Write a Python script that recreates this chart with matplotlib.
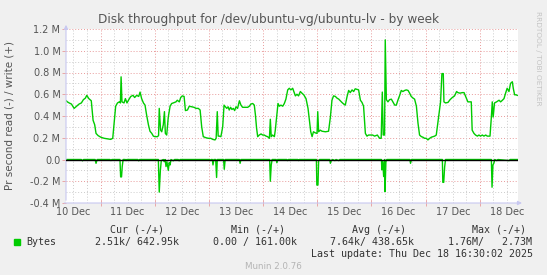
import matplotlib
matplotlib.use("Agg")
import matplotlib.pyplot as plt
import matplotlib.ticker as mticker
from matplotlib.patches import Rectangle

# Data: hours since 10 Dec 00:00, throughput in MB/s (millions of bytes)
write_h = [8.8, 9.3, 10.1, 11.1, 12.3, 13.4, 14.5, 15.5, 16.4, 17.3, 17.9, 18.8, 19.9, 20.7, 21.4, 22.0,
           22.9, 24.1, 25.6, 27.0, 28.5, 29.4, 30.0, 30.7, 31.5, 32.3, 32.8, 33.1, 33.5, 34.4, 35.0, 35.7,
           36.5, 37.4, 38.4, 39.1, 40.0, 40.9, 41.5, 42.2, 43.0, 43.7, 44.4, 45.2, 45.9, 46.7, 47.4, 48.1,
           49.2, 49.7, 50.0, 50.6, 51.1, 51.8, 52.3, 52.7, 53.3, 54.0, 54.8, 55.5, 56.2, 57.4, 58.0, 58.9,
           59.5, 60.2, 61.0, 61.6, 62.5, 63.3, 64.4, 65.4, 66.3, 67.3, 68.1, 68.8, 69.5, 70.7, 71.7, 72.8,
           73.7, 74.7, 75.2, 75.7, 76.1, 76.6, 77.3, 78.1, 78.7, 79.3, 79.9, 80.5, 81.0, 81.6, 82.2, 82.8,
           83.4, 84.0, 84.7, 85.5, 86.2, 86.9, 88.1, 89.2, 89.9, 90.6, 91.4, 92.1, 92.6, 93.1, 93.6, 94.3,
           95.1, 95.8, 96.5, 97.3, 98.0, 98.8, 99.2, 99.6, 100.2, 101.0, 101.4, 102.0, 102.6, 103.2, 103.9,
           104.7, 105.4, 106.1, 106.9, 107.6, 108.3, 109.1, 109.8, 110.3, 111.0, 111.7, 112.5, 113.2, 114.0,
           115.0, 115.9, 116.5, 117.1, 117.7, 118.3, 119.1, 119.9, 120.2, 120.6, 121.3, 122.1, 123.6, 125.0,
           125.8, 126.5, 127.2, 128.0, 128.7, 129.5, 130.2, 130.9, 131.7, 132.4, 133.2, 133.9, 134.6, 135.4,
           136.1, 136.8, 137.6, 138.3, 139.1, 139.8, 140.5, 141.3, 142.0, 142.7, 143.9, 144.5, 145.4, 146.6,
           147.6, 148.3, 148.8, 149.2, 149.8, 150.1, 150.6, 151.3, 152.0, 152.8, 153.5, 154.3, 155.0, 155.7,
           156.5, 157.2, 157.9, 158.7, 159.4, 160.2, 160.9, 161.6, 162.4, 163.1, 163.9, 164.6, 165.3, 166.1,
           166.8, 167.5, 168.3, 169.0, 169.8, 170.5, 171.2, 172.0, 172.7, 173.4, 174.2, 174.6, 175.2, 175.8,
           176.1, 176.8, 177.9, 178.8, 179.8, 180.8, 181.7, 182.3, 183.2, 184.2, 185.0, 185.7, 186.7, 187.6,
           188.2, 188.6, 189.4, 190.1, 190.9, 191.6, 192.3, 193.1, 193.8, 194.6, 195.3, 196.5, 197.1, 197.5,
           197.9, 198.5, 199.4, 200.5, 201.2, 202.0, 202.7, 203.4, 204.1, 204.9, 205.6, 206.4, 206.8, 207.4,
           208.0, 208.6]
write_v = [0.54, 0.53, 0.52, 0.51, 0.47, 0.49, 0.51, 0.52, 0.55, 0.565, 0.59, 0.56, 0.54, 0.36, 0.32, 0.24,
           0.22, 0.205, 0.195, 0.19, 0.185, 0.195, 0.33, 0.49, 0.52, 0.53, 0.52, 0.76, 0.53, 0.52, 0.56, 0.52,
           0.55, 0.58, 0.59, 0.57, 0.59, 0.58, 0.62, 0.56, 0.52, 0.50, 0.41, 0.32, 0.26, 0.24, 0.215, 0.21,
           0.21, 0.22, 0.47, 0.27, 0.255, 0.32, 0.44, 0.24, 0.225, 0.39, 0.49, 0.515, 0.52, 0.53, 0.545, 0.53,
           0.57, 0.585, 0.58, 0.45, 0.455, 0.49, 0.485, 0.48, 0.47, 0.47, 0.455, 0.30, 0.21, 0.20, 0.195, 0.195,
           0.185, 0.18, 0.195, 0.44, 0.215, 0.215, 0.21, 0.30, 0.50, 0.485, 0.47, 0.485, 0.455, 0.48, 0.46, 0.47,
           0.45, 0.485, 0.47, 0.54, 0.50, 0.48, 0.48, 0.48, 0.49, 0.51, 0.515, 0.50, 0.41, 0.29, 0.21, 0.225,
           0.235, 0.225, 0.225, 0.215, 0.21, 0.195, 0.37, 0.21, 0.225, 0.21, 0.27, 0.39, 0.515, 0.49, 0.50,
           0.49, 0.515, 0.555, 0.64, 0.655, 0.64, 0.655, 0.615, 0.585, 0.60, 0.585, 0.625, 0.61, 0.595,
           0.56, 0.47, 0.365, 0.255, 0.21, 0.255, 0.245, 0.24, 0.44, 0.255, 0.27, 0.26, 0.255, 0.26,
           0.39, 0.545, 0.585, 0.58, 0.565, 0.555, 0.54, 0.525, 0.51, 0.50, 0.58, 0.635, 0.615, 0.64,
           0.625, 0.65, 0.645, 0.64, 0.545, 0.525, 0.49, 0.24, 0.215, 0.225, 0.225, 0.225, 0.215, 0.225,
           0.195, 0.195, 0.62, 0.225, 0.225, 1.10, 0.55, 0.53, 0.55, 0.555, 0.53, 0.50, 0.50, 0.545,
           0.59, 0.635, 0.625, 0.635, 0.64, 0.635, 0.61, 0.58, 0.565, 0.555, 0.49, 0.335, 0.225, 0.21,
           0.205, 0.195, 0.195, 0.18, 0.195, 0.205, 0.21, 0.215, 0.225, 0.335, 0.455, 0.53, 0.79, 0.79,
           0.53, 0.52, 0.525, 0.55, 0.57, 0.585, 0.625, 0.615, 0.61, 0.615, 0.615, 0.58, 0.53, 0.53,
           0.53, 0.27, 0.24, 0.225, 0.215, 0.225, 0.215, 0.225, 0.215, 0.225, 0.215, 0.215, 0.39, 0.53,
           0.39, 0.52, 0.53, 0.545, 0.53, 0.545, 0.56, 0.61, 0.655, 0.625, 0.70, 0.715, 0.655, 0.595,
           0.595, 0.59]

read_h = [8.8, 15.5, 16.0, 16.5, 21.6, 22.0, 22.5, 28.2, 28.6, 29.0, 32.6, 32.9, 33.3, 33.6, 34.0, 35.0,
          35.3, 35.6, 40.5, 40.9, 41.3, 49.6, 50.0, 50.5, 50.9, 51.8, 52.2, 52.6, 53.0, 53.4, 54.0, 54.4,
          54.8, 55.2, 56.2, 56.8, 58.4, 58.8, 59.2, 72.3, 72.6, 73.0, 73.5, 73.8, 74.2, 75.0, 75.4, 75.7,
          78.5, 78.8, 79.2, 85.5, 85.8, 86.2, 98.9, 99.2, 99.6, 100.0, 101.8, 102.1, 102.5, 106.5, 106.8,
          107.2, 111.4, 111.7, 112.0, 119.6, 119.8, 120.3, 120.6, 121.0, 125.5, 125.8, 126.2, 126.8,
          127.8, 128.3, 129.5, 130.0, 148.4, 148.6, 149.0, 149.4, 149.8, 150.0, 150.4, 150.8, 161.0,
          161.3, 161.7, 175.4, 175.6, 176.0, 176.4, 176.8, 197.1, 197.4, 197.8, 198.2, 198.6, 199.5,
          200.0, 205.0, 205.4, 208.6]
read_v = [0, 0, -0.012, 0, 0, -0.035, 0, 0, -0.01, 0, 0, -0.16, -0.16, -0.065, 0, 0,
          -0.01, 0, 0, -0.012, 0, 0, -0.30, -0.10, -0.01, 0, -0.02, 0, -0.065, -0.02, -0.10, -0.03,
          -0.05, 0, -0.012, 0, 0, -0.012, 0, 0, -0.01, 0, 0, -0.05, 0, 0, -0.165, 0,
          0, -0.09, 0, 0, -0.035, 0, 0, -0.20, -0.05, 0, 0, -0.03, 0, 0, -0.01,
          0, 0, -0.01, 0, 0, -0.235, -0.235, -0.01, 0, 0, -0.035, -0.01, 0,
          -0.01, 0, -0.01, 0, 0, -0.095, -0.02, -0.157, 0, -0.295, -0.02, 0, 0,
          -0.035, 0, 0, -0.21, -0.21, -0.07, 0, 0, -0.255, -0.05, -0.035, 0, -0.01,
          0, -0.01, 0, 0]

day_labels = ["10 Dec", "11 Dec", "12 Dec", "13 Dec", "14 Dec", "15 Dec", "16 Dec", "17 Dec", "18 Dec"]

legend_head = ["Cur (-/+)", "Min (-/+)", "Avg (-/+)", "Max (-/+)"]
legend_vals = ["2.51k/ 642.95k", "0.00 / 161.00k", "7.64k/ 438.65k", "1.76M/   2.73M"]

W, H = 547, 275
green = "#00cc00"
axcol = "#c8c8f0"
red_grid = "#e89a9a"
gray_grid = "#cccccc"

fig = plt.figure(figsize=(W / 100, H / 100), dpi=100, facecolor="#f0f0f0")
ax = fig.add_axes([66 / W, (H - 203) / H, (518 - 66) / W, (203 - 29) / H])
ax.set_facecolor("white")
ax.set_xlim(8.7, 208.9)
ax.set_ylim(-0.4, 1.2)

# grid (rrdtool style)
minor_y = [i / 10 for i in range(-4, 13) if i % 2]
major_y = [i / 10 for i in range(-4, 13, 2)]
ax.hlines(minor_y, 8.7, 208.9, colors=gray_grid, linestyles=(0, (1, 2)), lw=0.7)
ax.hlines(major_y, 8.7, 208.9, colors=red_grid, linestyles=(0, (1, 2)), lw=0.7)
six_h = [h for h in range(12, 209, 6) if h % 24]
midn = list(range(24, 209, 24))
ax.vlines(six_h, -0.4, 1.2, colors=gray_grid, linestyles=(0, (1, 2)), lw=0.7)
ax.vlines(midn, -0.4, 1.2, colors=red_grid, linestyles=(0, (1, 2)), lw=0.7)

ax.plot(write_h, write_v, color=green, lw=1.0, zorder=3)
ax.plot(read_h, read_v, color=green, lw=1.0, zorder=3)
ax.axhline(0, color="black", lw=1.0, zorder=4)

for s in ax.spines.values():
    s.set_visible(False)

# axis lines with arrows
ax.annotate("", xy=(0, 1.04), xytext=(0, 0), xycoords="axes fraction",
            arrowprops=dict(arrowstyle="-|>", color=axcol, lw=0.8, mutation_scale=6), annotation_clip=False)
ax.annotate("", xy=(1.015, 0), xytext=(-0.01, 0), xycoords="axes fraction",
            arrowprops=dict(arrowstyle="-|>", color=axcol, lw=0.8, mutation_scale=6), annotation_clip=False)

ax.set_yticks(major_y)
ax.yaxis.set_major_formatter(mticker.FuncFormatter(
    lambda v, p: "0.0" if abs(v) < 1e-9 else f"{v:.1f} M"))
ax.tick_params(axis="y", length=3, width=0.6, color=red_grid, labelsize=7, labelcolor="#555555", pad=1)

noon = [12 + 24 * i for i in range(len(day_labels))]
ax.set_xticks(noon, day_labels)
ax.set_xticks(midn, minor=True)
ax.tick_params(axis="x", which="major", length=0, labelsize=7, labelcolor="#555555", pad=3)
ax.tick_params(axis="x", which="minor", direction="inout", length=4, width=0.6, color=red_grid)

fig.text(269 / W, 1 - 19 / H, "Disk throughput for /dev/ubuntu-vg/ubuntu-lv - by week",
         ha="center", va="center", fontsize=8.7, color="#555555")
fig.text(10 / W, 1 - 116 / H, "Pr second read (-) / write (+)", rotation=90,
         ha="center", va="center", fontsize=7.5, color="#555555")
fig.text(538 / W, 1 - 58 / H, "RRDTOOL / TOBI OETIKER", rotation=270,
         ha="center", va="center", fontsize=5.3, color="#c4c4c4")

mono = dict(family="DejaVu Sans Mono", fontsize=7.2, color="#333333", va="center")
for x, t in zip([137.5, 258, 379, 499.5], legend_head):
    fig.text(x / W, 1 - 229.7 / H, t, ha="center", **mono)
fig.patches.append(Rectangle((14 / W, 1 - 245 / H), 5.5 / W, 6 / H, color=green,
                             transform=fig.transFigure, figure=fig))
fig.text(26 / W, 1 - 241.9 / H, "Bytes", ha="left", **mono)
for x, t in zip([95, 213, 330, 448], legend_vals):
    fig.text(x / W, 1 - 241.9 / H, t, ha="left", **mono)
fig.text(533 / W, 1 - 254 / H, "Last update: Thu Dec 18 16:30:02 2025", ha="right", **mono)
fig.text(273 / W, 1 - 266.5 / H, "Munin 2.0.76", ha="center", va="center", fontsize=6.3, color="#b4b4b4")

fig.savefig("out.png", dpi=100, facecolor=fig.get_facecolor())
